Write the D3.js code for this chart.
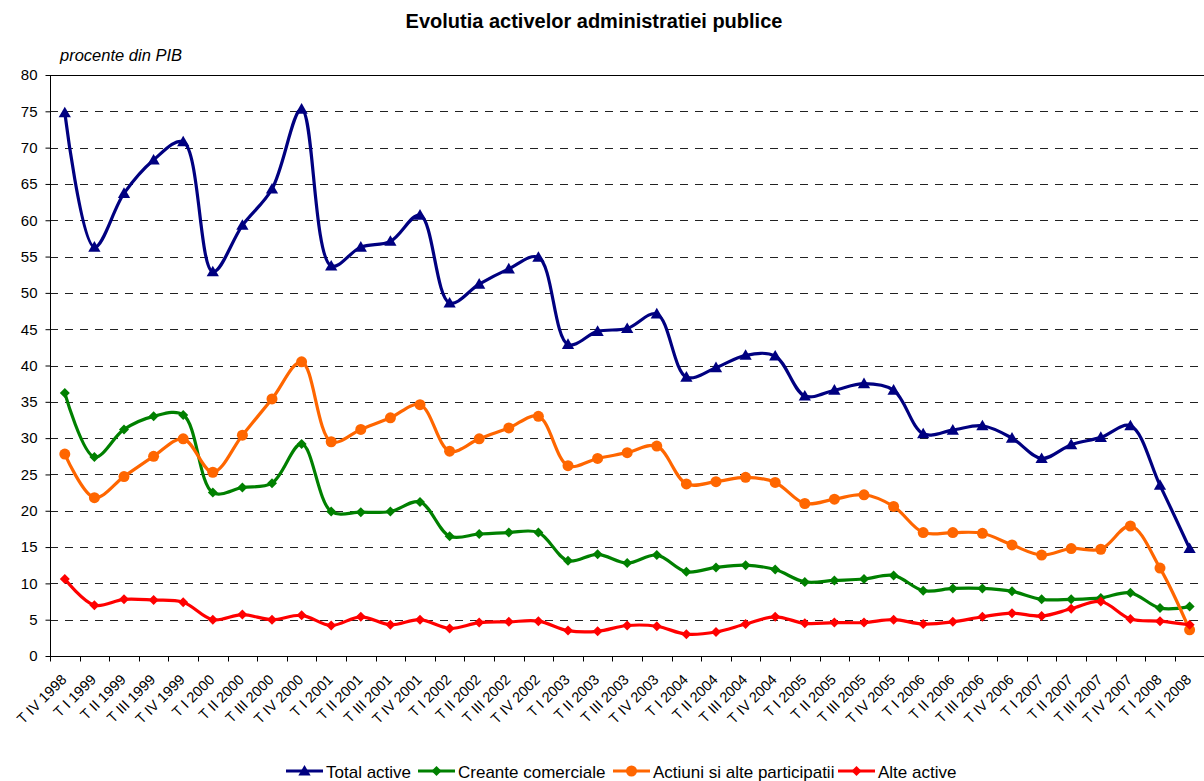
<!DOCTYPE html>
<html>
<head>
<meta charset="utf-8">
<script src="https://cdn.jsdelivr.net/npm/d3@7"></script>
<style>
  body { margin: 0; background: #fff; }
  svg { display: block; font-family: "Liberation Sans", Arial, sans-serif; }
</style>
</head>
<body>
<svg id="chart" width="1204" height="781"></svg>
<script>
const categories = [
  "T IV 1998",
  "T I 1999","T II 1999","T III 1999","T IV 1999",
  "T I 2000","T II 2000","T III 2000","T IV 2000",
  "T I 2001","T II 2001","T III 2001","T IV 2001",
  "T I 2002","T II 2002","T III 2002","T IV 2002",
  "T I 2003","T II 2003","T III 2003","T IV 2003",
  "T I 2004","T II 2004","T III 2004","T IV 2004",
  "T I 2005","T II 2005","T III 2005","T IV 2005",
  "T I 2006","T II 2006","T III 2006","T IV 2006",
  "T I 2007","T II 2007","T III 2007","T IV 2007",
  "T I 2008","T II 2008"
];

const totalActive = [74.8,
  56.3,63.7,68.3,70.8,
  52.9,59.3,64.3,75.3,
  53.7,56.3,57.1,60.7,
  48.6,51.2,53.3,54.9,
  42.9,44.7,45.1,47.1,
  38.4,39.7,41.4,41.3,
  35.8,36.6,37.5,36.6,
  30.6,31.1,31.7,30.0,
  27.2,29.1,30.1,31.7,
  23.5,14.8];

const creanteComerciale = [36.2,
  27.4,31.2,33.0,33.2,
  22.5,23.2,23.8,29.2,
  19.9,19.8,19.9,21.2,
  16.5,16.8,17.0,17.0,
  13.1,14.0,12.8,13.9,
  11.6,12.2,12.5,11.9,
  10.2,10.4,10.6,11.1,
  9.0,9.3,9.3,8.9,
  7.8,7.8,8.0,8.7,
  6.6,6.8];

const actiuni = [27.8,
  21.8,24.7,27.5,29.9,
  25.3,30.4,35.4,40.5,
  29.5,31.2,32.8,34.6,
  28.2,29.9,31.4,33.0,
  26.2,27.2,28.0,28.9,
  23.7,24.0,24.6,23.9,
  21.0,21.6,22.2,20.6,
  17.0,17.0,16.9,15.3,
  13.9,14.8,14.7,17.9,
  12.1,3.6];

const alteActive = [10.6,
  7.0,7.8,7.7,7.4,
  5.0,5.7,5.0,5.6,
  4.2,5.4,4.3,5.0,
  3.8,4.6,4.7,4.8,
  3.5,3.4,4.2,4.1,
  3.0,3.3,4.4,5.4,
  4.5,4.6,4.6,5.0,
  4.4,4.7,5.4,5.9,
  5.5,6.5,7.5,5.1,
  4.8,4.3];

const yTicks = [0,5,10,15,20,25,30,35,40,45,50,55,60,65,70,75,80];

const seriesNames = ["Total active","Creante comerciale","Actiuni si alte participatii","Alte active"];
const seriesValues = [totalActive, creanteComerciale, actiuni, alteActive];
const seriesColors = ["#000080","#008000","#FF6600","#FF0000"];
const seriesMarkers = ["triangle","diamond","circle","diamond"];

const svg = d3.select("#chart");
const pLeft = 50, pRight = 50 + 39 * 29.6, pTop = 75, pBottom = 656;

const x = d3.scaleBand().domain(categories).range([pLeft, pRight]).padding(0);
const y = d3.scaleLinear().domain([0, 80]).range([pBottom, pTop]);
const cx = c => x(c) + x.bandwidth() / 2;

// Title
svg.append("text").attr("x", 594).attr("y", 28).attr("text-anchor", "middle")
  .style("font-size", "20px").style("font-weight", "bold")
  .text("Evolutia activelor administratiei publice");
svg.append("text").attr("x", 60).attr("y", 61)
  .style("font-size", "16.5px").style("font-style", "italic")
  .text("procente din PIB");

// Gridlines
svg.append("g").selectAll("line").data(yTicks.filter(d => d > 0 && d < 80)).join("line")
  .attr("x1", pLeft).attr("x2", 1204)
  .attr("y1", d => Math.round(y(d)) + 0.5).attr("y2", d => Math.round(y(d)) + 0.5)
  .attr("stroke", "#222").attr("stroke-width", 1).attr("stroke-dasharray", "8,7");
// top border
svg.append("line").attr("x1", pLeft).attr("x2", 1204).attr("y1", y(80) + 0.5).attr("y2", y(80) + 0.5)
  .attr("stroke", "#000").attr("stroke-width", 1);

// Y axis
const yAxis = d3.axisLeft(y).tickValues(yTicks).tickSize(5).tickPadding(8).tickFormat(d3.format("d"));
const gy = svg.append("g").attr("transform", `translate(${pLeft + 0.5},0)`).call(yAxis);
gy.selectAll("text").style("font-size", "15px").attr("fill", "#000");
gy.selectAll("line").attr("stroke", "#000");
gy.select(".domain").attr("stroke", "#000").attr("d", `M0,${pTop}V${pBottom}`);

// X axis
const xAxis = d3.axisBottom(x).tickSize(0).tickFormat("");
const gx = svg.append("g").attr("transform", `translate(0,${pBottom + 0.5})`).call(xAxis);
gx.select(".domain").attr("stroke", "#000").attr("d", `M${pLeft},0H1204`);
gx.selectAll(".tick").remove();
const boundaries = categories.map(c => x(c)).concat([pRight]);
gx.selectAll("line.bt").data(boundaries).join("line").attr("class", "bt")
  .attr("x1", d => Math.round(d) + 0.5).attr("x2", d => Math.round(d) + 0.5)
  .attr("y1", 0).attr("y2", 5).attr("stroke", "#000");
svg.append("g").selectAll("text").data(categories).join("text")
  .attr("transform", c => `translate(${cx(c) - 1},${pBottom + 21}) rotate(-45)`)
  .attr("text-anchor", "end").attr("dy", "0.35em")
  .style("font-size", "14.5px").text(c => c);

// Lines
const line = d3.line().x((d, i) => cx(categories[i])).y(d => y(d)).curve(d3.curveCatmullRom.alpha(0.5));

function markerPath(type) {
  if (type === "triangle") return d3.symbol().type(d3.symbolTriangle).size(65)();
  if (type === "circle") return d3.symbol().type(d3.symbolCircle).size(95)();
  return d3.symbol().type(d3.symbolSquare).size(50)();
}
function markerTransform(type, px, py) {
  if (type === "triangle") return `translate(${px},${py + 1})`;
  if (type === "diamond") return `translate(${px},${py}) rotate(45)`;
  return `translate(${px},${py})`;
}

seriesValues.forEach((vals, s) => {
  const g = svg.append("g");
  g.append("path").datum(vals).attr("d", line).attr("fill", "none")
    .attr("stroke", seriesColors[s]).attr("stroke-width", 3.2).attr("stroke-linejoin", "round");
  g.selectAll("path.m").data(vals).join("path").attr("class", "m")
    .attr("d", markerPath(seriesMarkers[s]))
    .attr("transform", (d, i) => markerTransform(seriesMarkers[s], cx(categories[i]), y(d)))
    .attr("fill", seriesColors[s]);
});

// Legend
const legendX = [286, 418, 613, 838];
const legendY = 771;
seriesNames.forEach((name, s) => {
  const g = svg.append("g").attr("transform", `translate(${legendX[s]},${legendY})`);
  g.append("line").attr("x1", 0).attr("x2", 37).attr("y1", 0).attr("y2", 0)
    .attr("stroke", seriesColors[s]).attr("stroke-width", 3.2);
  g.append("path").attr("d", markerPath(seriesMarkers[s]))
    .attr("transform", markerTransform(seriesMarkers[s], 18.5, 0)).attr("fill", seriesColors[s]);
  g.append("text").attr("x", 40).attr("y", 7)
    .style("font-size", "17px").text(name);
});
</script>
</body>
</html>
